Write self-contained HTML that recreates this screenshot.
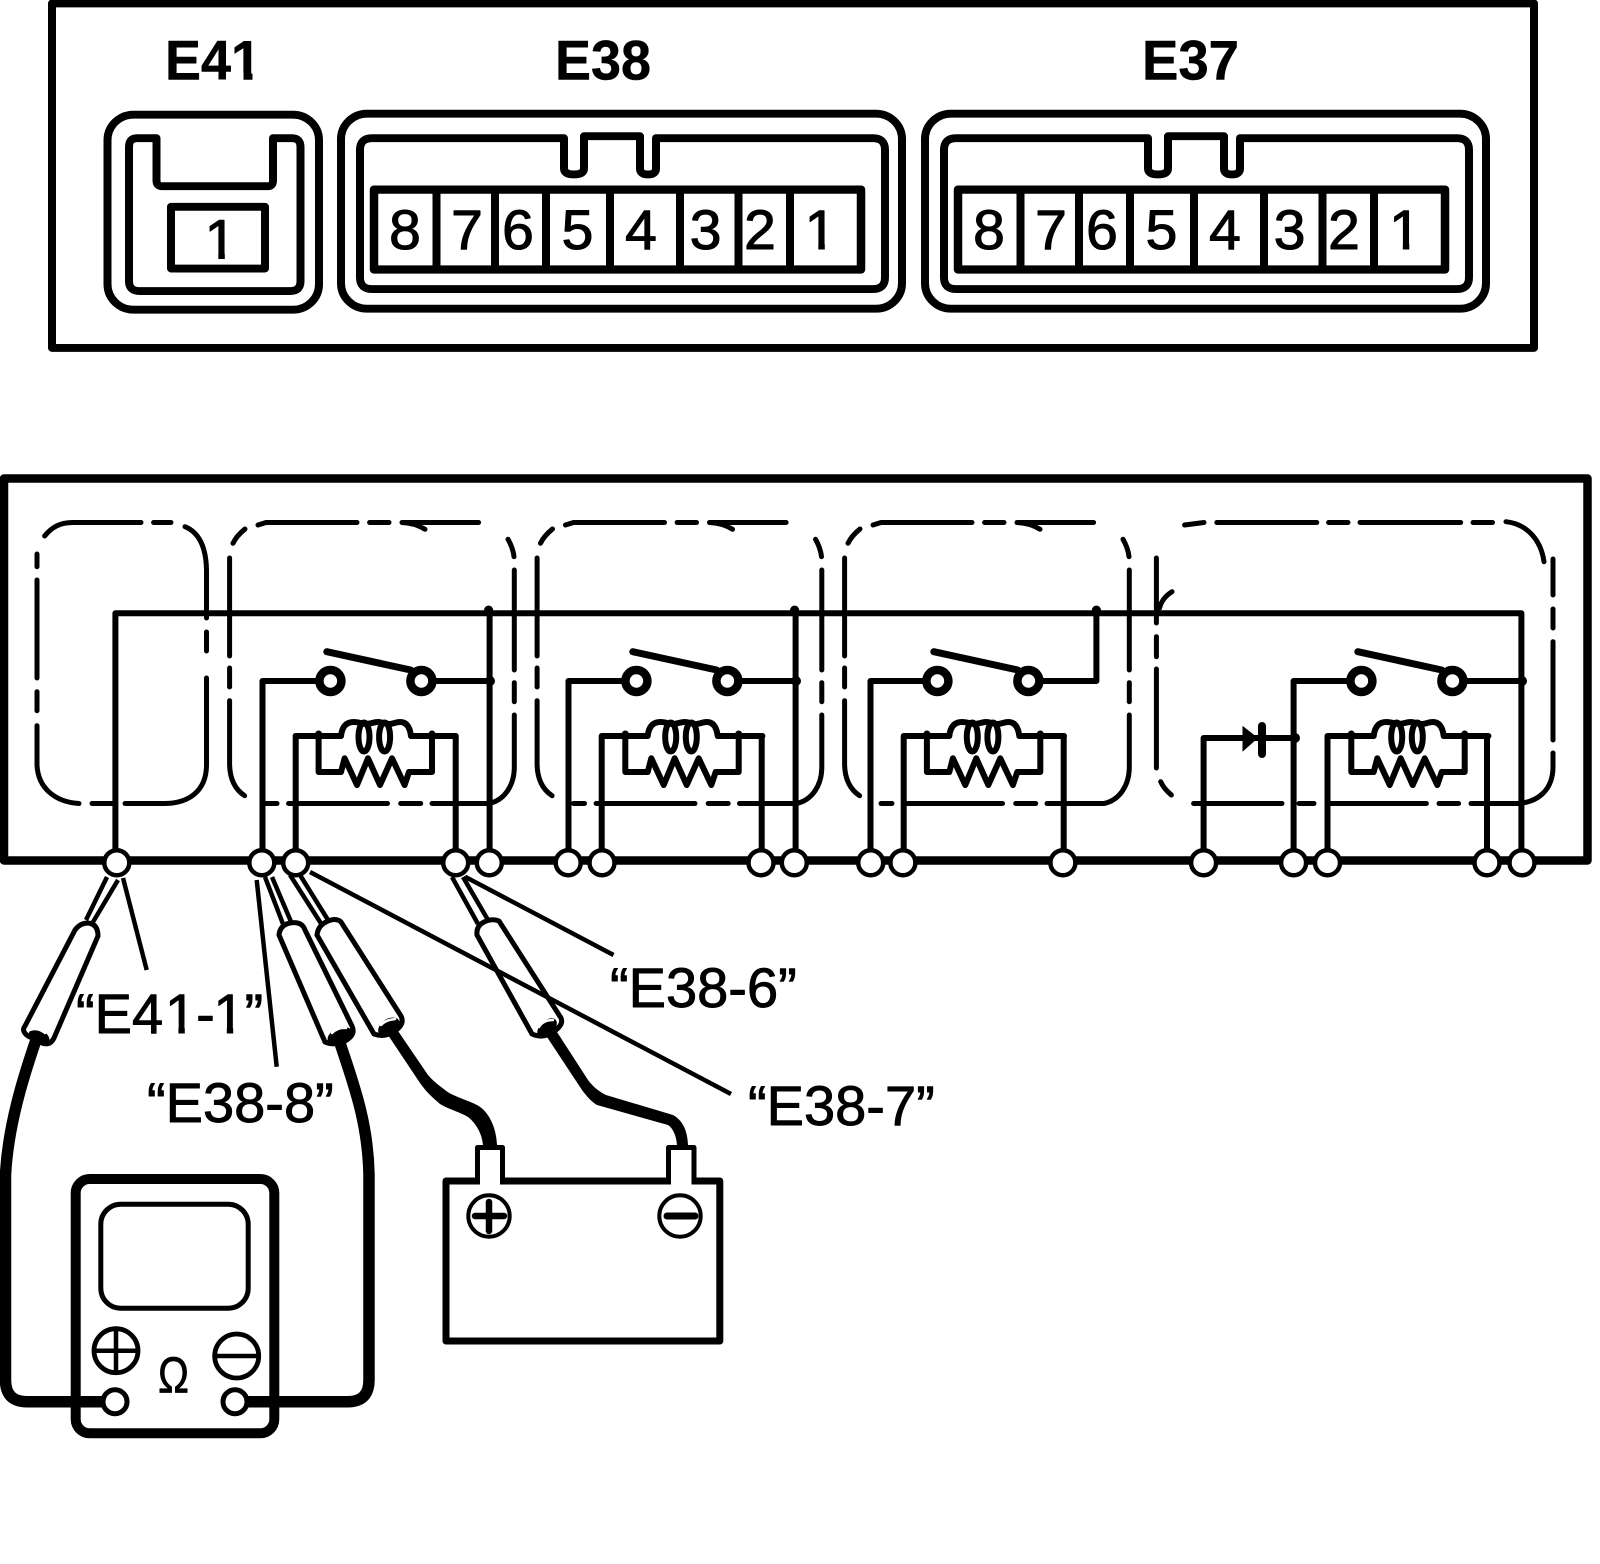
<!DOCTYPE html>
<html><head><meta charset="utf-8"><style>
html,body{margin:0;padding:0;background:#fff}
svg{display:block}
text{font-family:"Liberation Sans",sans-serif;fill:#000}
.d{font-size:57px;text-anchor:middle;stroke:#000;stroke-width:1.1}
.h{font-size:57px;font-weight:bold;stroke:#000;stroke-width:.5}
.l{font-size:56px;stroke:#000;stroke-width:.9}
</style></head><body>
<svg xmlns="http://www.w3.org/2000/svg" width="1600" height="1564" viewBox="0 0 1600 1564" fill="none" stroke="#000" stroke-linecap="round" stroke-linejoin="round">
<defs>
<g id="conn">
<rect x="341" y="116" width="561" height="199" rx="26" stroke-width="8"/>
<path d="M371 141H564V172Q564 178 574 178Q584 178 584 172V139H640V172Q640 178 648 178Q656 178 656 172V141H873Q885 141 885 153V283Q885 295 873 295H372Q360 295 360 283V153Q360 141 372 141Z" stroke-width="8"/>
<rect x="374" y="193.5" width="487" height="81.5" stroke-width="8.5"/>
<path d="M436.5 193V275M495 193V275M546 193V275M610 193V275M680 193V275M738.5 193V275M790 193V275" stroke-width="8" stroke-linecap="butt"/>
</g>
<g id="sw">
<circle cx="330.4" cy="681" r="11" stroke-width="8.5"/>
<circle cx="421.4" cy="681" r="11" stroke-width="8.5"/>
<path d="M326.8 651.7L410.7 670" stroke-width="7"/>
</g>
<g id="coil" stroke-width="6">
<path d="M318.6 736V772H341L344.6 758.3L357 785L368 758.3L380 785L392 758.3L404.6 785L409 772H432V736"/>
<path d="M295.7 736H341C342 727 346 722 354 722C360 722 362 724 366 724C370 724 374 722 378 722C382 722 384 724 389 724C393 724 396 722 400 722C407 722 410 728 411 736H455.7"/>
<ellipse cx="364" cy="737" rx="5.5" ry="14.5" stroke-width="6"/>
<ellipse cx="384.6" cy="737" rx="5.5" ry="14.5" stroke-width="6"/>
<circle cx="318.6" cy="734" r="3.5" fill="#000" stroke="none"/>
<circle cx="432" cy="734" r="3.5" fill="#000" stroke="none"/>
</g>
<path id="dash" stroke-width="5" d="M229.6 558V656M229.6 668V687M229.6 700.7V765C230 780 236 790 244.6 795.7M233 543.3C236 537 240 533 245 529M258 525L266 522.5H357M369.6 522.5H389M402 522.5H478.6M402 522.5Q415 523 425 529.3M508 539.3Q513 548 514 556.7M514.3 570V670M514.3 682.7V701.7M514.3 715V768C514 785 505 800 489 803.5H432M420.7 803.5H400.7M387.5 803.5H288.6M277 803.5H266"/>
<g id="pin"><circle r="12.5" fill="#fff" stroke-width="4.5"/></g>
</defs>

<!-- top panel -->
<g transform="scale(1,.98)">
<rect x="52" y="3.5" width="1482" height="351.5" stroke-width="8"/>
<text class="h" x="165" y="81" textLength="96" lengthAdjust="spacingAndGlyphs">E41</text>
<rect x="232" y="74" width="11.5" height="9" fill="#fff" stroke="none"/><rect x="252.5" y="74" width="10" height="9" fill="#fff" stroke="none"/>
<text class="h" x="555" y="81" textLength="96" lengthAdjust="spacingAndGlyphs">E38</text>
<text class="h" x="1142" y="81" textLength="97" lengthAdjust="spacingAndGlyphs">E37</text>
<rect x="107.5" y="117" width="211.5" height="199" rx="26" stroke-width="8"/>
<path d="M137 141H156.5V184Q156.5 190 162 190H268Q273 190 273 184V141H292Q300.5 141 300.5 150V287Q300.5 297 290 297H140Q129 297 129 287V150Q129 141 137 141Z" stroke-width="8"/>
<rect x="171" y="211" width="94" height="63" stroke-width="8"/>
<text class="d" x="220.5" y="264">1</text>
<rect x="206" y="258" width="12.3" height="8" fill="#fff" stroke="none"/><rect x="224.8" y="258" width="12.7" height="8" fill="#fff" stroke="none"/>
<use href="#conn"/>
<use href="#conn" x="584"/>
<text class="d" x="405" y="254">8</text><text class="d" x="467" y="254">7</text><text class="d" x="518" y="254">6</text><text class="d" x="577.5" y="254">5</text><text class="d" x="641" y="254">4</text><text class="d" x="705.6" y="254">3</text><text class="d" x="760" y="254">2</text><text class="d" x="820.5" y="254">1</text>
<rect x="806" y="248" width="12.3" height="8" fill="#fff" stroke="none"/><rect x="824.8" y="248" width="12.7" height="8" fill="#fff" stroke="none"/>
<text class="d" x="989" y="254">8</text><text class="d" x="1051" y="254">7</text><text class="d" x="1102" y="254">6</text><text class="d" x="1161.5" y="254">5</text><text class="d" x="1225" y="254">4</text><text class="d" x="1289.6" y="254">3</text><text class="d" x="1344" y="254">2</text><text class="d" x="1405" y="254">1</text>
<rect x="1390.5" y="248" width="12.3" height="8" fill="#fff" stroke="none"/><rect x="1409.3" y="248" width="12.7" height="8" fill="#fff" stroke="none"/>
</g>

<!-- lower panel -->
<rect x="4" y="478.5" width="1583.5" height="382" stroke-width="8.5"/>

<!-- dashed boxes -->
<path stroke-width="5" d="M44.6 536C52 527 60 522.5 73 522.5H141M153.6 522.5H171M185 526.7C198 532 206 545 206.5 570V618M206.5 632V651M206.5 678V766C206 790 190 803.5 164 803.5H125M112 803.5H92M79 803.5C55 802 38 788 37 765V725.7M37 710.7V691.7M37 678V580M37 566.7V554"/>
<use href="#dash"/>
<use href="#dash" x="307.5"/>
<use href="#dash" x="615"/>
<path stroke-width="5" d="M1156.4 558V623M1172 591.7C1165 596 1161 602 1159.6 608M1156.4 636.7V656.7M1156.4 669V768M1160.7 781.7Q1164 789 1171.4 795M1193.6 803.5H1282M1299 803.5H1314M1331 803.5H1426.4M1439 803.5H1458.6M1471 803.5H1518C1540 802 1553 788 1553 766.7V753M1553 740V641.7M1553 628V609M1553 595V559M1544 561.7C1541 540 1527 524 1506 521.7M1492.5 522.5H1473M1460.7 522.5H1360M1348 522.5H1328.6M1316.8 522.5H1216.8M1204 522.5L1184.6 525"/>

<!-- bus and wires -->
<g stroke-width="6">
<path d="M115.4 860V613.3H1521.4V860"/>
<path d="M262.5 860V681H319M432 681H490M489.6 613V860M295.7 860V736M455.7 736V860"/>
<path d="M568.5 860V681H625M738 681H796M795.6 613V860M601.7 860V736M761.7 736V860"/>
<path d="M870.5 860V681H926M1040 681H1096.4V613M903.7 860V736M1063.7 736V860"/>
<path d="M1293.6 860V681H1350M1463 681H1522M1203.6 860V738H1294M1327.5 860V736M1487 736V860"/>
</g>
<g fill="#000" stroke="none">
<circle cx="488.6" cy="610" r="4.5"/><circle cx="490" cy="681" r="5"/>
<circle cx="794.6" cy="610" r="4.5"/><circle cx="796" cy="681" r="5"/>
<circle cx="1096.4" cy="610" r="4.5"/>
<circle cx="1522" cy="681" r="5"/><circle cx="1295" cy="738" r="5"/>
<path d="M1242.5 725.7V751.7L1258 738Z"/>
</g>
<path d="M1262 726V754" stroke-width="8"/>

<use href="#sw"/><use href="#sw" x="306"/><use href="#sw" x="607"/><use href="#sw" x="1031"/>
<use href="#coil"/><use href="#coil" x="306.7"/><use href="#coil" x="608.3"/><use href="#coil" x="1032.7"/>

<!-- probe tips -->
<g stroke-width="4.5" stroke-linecap="butt">
<path d="M107 877L86 920M118 880L93 922"/>
<path d="M265 877L283 924M272 877L292 924"/>
<path d="M290 875L322 925M300 875L328 920"/>
<path d="M452 877L478 924M463 877L488 920"/>
</g>
<!-- probe bodies -->
<g stroke-width="5" fill="#fff">
<path d="M75 930Q80 923 88 923Q98 924 98 936L54 1038Q50 1046 42 1043L28 1036Q21 1031 25 1026Z"/>
<path d="M279 935Q280 925 290 923Q302 921 305 930L352 1026Q356 1035 345 1041Q335 1046 325 1042Z"/>
<path d="M317 935Q318 926 326 922Q336 917 341 922L401 1016Q405 1024 395 1031Q385 1038 374 1034Z"/>
<path d="M477 935Q476 926 484 922Q492 918 499 921L561 1018Q564 1025 553 1032Q543 1039 532 1034Z"/>
</g>
<!-- leaders -->
<g stroke-width="4.5" stroke-linecap="butt">
<path d="M123 878L146.7 970"/>
<path d="M256.7 880L276.7 1066.7"/>
<path d="M310 872L731 1094"/>
<path d="M465 876.7L613.5 955"/>
</g>
<!-- wires -->
<g stroke-linecap="butt" stroke-width="11.5">
<path d="M36 1040C24 1075 8 1125 5.5 1175V1380Q5.5 1401.7 27 1401.7H103"/>
<path d="M339 1040C352 1080 368 1120 369 1175V1380Q369 1401.7 348 1401.7H247"/>
</g>
<g fill="#000" stroke="none">
<path d="M388 1035L418 1080C425 1091 432 1097 440 1104C450 1110 460 1112 468 1117C476 1123 483 1135 483 1147H497C497 1130 490 1112 477 1105C465 1099 452 1096 445 1090C440 1086 434 1082 428 1075L398 1031Z"/>
<path d="M547 1037L582 1090C588 1098 592 1102 597 1105L668 1125C673 1128 677 1137 677 1147H688C688 1130 682 1120 673 1115L606 1095C600 1092 594 1088 588 1080L557 1032Z"/>
<ellipse cx="39" cy="1037" rx="11" ry="7" transform="rotate(25 39 1037)"/>
<ellipse cx="340" cy="1036" rx="13" ry="8" transform="rotate(-22 340 1036)"/>
<ellipse cx="389" cy="1027" rx="12" ry="8" transform="rotate(-35 389 1027)"/>
<ellipse cx="547" cy="1028" rx="12" ry="7" transform="rotate(-45 547 1028)"/>
</g>
<g stroke="#fff" stroke-width="2.5">
<path d="M30 1030Q37 1027 45 1033"/>
<path d="M332 1033Q338 1027 346 1028"/>
<path d="M381 1025Q385 1020 395 1019"/>
<path d="M539 1027Q543 1020 553 1020"/>
</g>

<!-- terminals -->
<use href="#pin" x="116.8" y="862.7"/><use href="#pin" x="261.8" y="862.7"/><use href="#pin" x="295.7" y="862.7"/><use href="#pin" x="455.7" y="862.7"/><use href="#pin" x="489.3" y="862.7"/>
<use href="#pin" x="568.2" y="862.7"/><use href="#pin" x="602" y="862.7"/><use href="#pin" x="761" y="862.7"/><use href="#pin" x="794.3" y="862.7"/>
<use href="#pin" x="870.7" y="862.7"/><use href="#pin" x="902.9" y="862.7"/><use href="#pin" x="1062.9" y="862.7"/>
<use href="#pin" x="1203.6" y="862.7"/><use href="#pin" x="1293.6" y="862.7"/><use href="#pin" x="1327.5" y="862.7"/><use href="#pin" x="1487" y="862.7"/><use href="#pin" x="1522" y="862.7"/>

<!-- labels -->
<text class="l" x="76" y="1033">“E4<tspan x="165">1</tspan>-<tspan x="213.4">1</tspan>”</text>
<rect x="166" y="1027.5" width="12.4" height="8" fill="#fff" stroke="none"/><rect x="184.8" y="1027.5" width="11" height="8" fill="#fff" stroke="none"/>
<rect x="214.5" y="1027.5" width="12.3" height="8" fill="#fff" stroke="none"/><rect x="233.2" y="1027.5" width="11" height="8" fill="#fff" stroke="none"/>
<text class="l" x="147" y="1122">“E38-8”</text>
<text class="l" x="610" y="1007">“E38-6”</text>
<text class="l" x="748" y="1125">“E38-7”</text>

<!-- meter -->
<rect x="75.7" y="1179" width="198.6" height="254.3" rx="14" stroke-width="10"/>
<rect x="100.8" y="1204.2" width="147.4" height="104" rx="20" stroke-width="5"/>
<circle cx="116" cy="1350.7" r="22" stroke-width="4.8"/>
<path d="M94 1350.7H138M116 1328.7V1372.7" stroke-width="4.5" stroke-linecap="butt"/>
<circle cx="236.7" cy="1356" r="22" stroke-width="4.8"/>
<path d="M214.7 1356H258.7" stroke-width="4.5" stroke-linecap="butt"/>
<circle cx="115" cy="1401.7" r="12" fill="#fff" stroke-width="5"/>
<circle cx="235" cy="1401.7" r="12" fill="#fff" stroke-width="5"/>
<text x="158" y="1392.5" style="font-size:51px;stroke:#000;stroke-width:.7" textLength="31" lengthAdjust="spacingAndGlyphs">Ω</text>

<!-- battery -->
<rect x="446" y="1181" width="273.8" height="160" stroke-width="7"/>
<path d="M477.5 1180V1147.5H502.5V1180" fill="#fff" stroke-width="5" stroke-linecap="butt"/>
<path d="M668.5 1180V1147.5H694V1180" fill="#fff" stroke-width="5" stroke-linecap="butt"/>
<path d="M480 1181H500M671 1181H691.5" stroke="#fff" stroke-width="8" stroke-linecap="butt"/>
<circle cx="489" cy="1216" r="20.7" stroke-width="4"/>
<path d="M475 1216H504" stroke-width="6.5"/>
<path d="M489 1202V1231" stroke-width="6.5"/>
<circle cx="680" cy="1216" r="20.7" stroke-width="4"/>
<path d="M667 1216H695" stroke-width="7"/>
</svg>
</body></html>
